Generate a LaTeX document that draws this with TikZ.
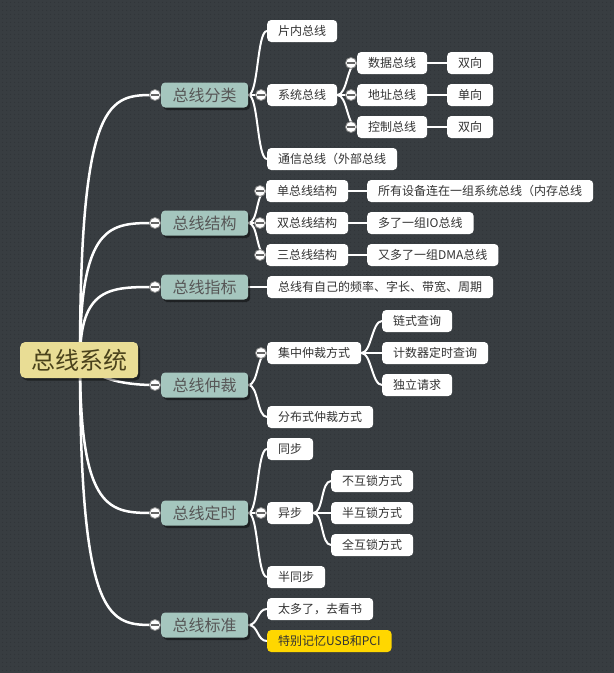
\documentclass[tikz,border=0pt]{standalone}
\usepackage{fontspec}
\newfontfamily\cjk{Noto Sans CJK SC}
\usetikzlibrary{patterns.meta,shadows}
\definecolor{bgc}{HTML}{383D41}
\definecolor{dotc}{HTML}{2C3034}
\definecolor{tealc}{HTML}{A5C6BE}
\definecolor{rootc}{HTML}{E9DD95}
\definecolor{roottxt}{HTML}{4A421C}
\definecolor{maintxt}{HTML}{575757}
\definecolor{leaftxt}{HTML}{333333}
\definecolor{goldc}{HTML}{FFD700}
\definecolor{circc}{HTML}{8A8A8A}
\pgfdeclarelayer{bglayer}
\pgfdeclarelayer{lines}
\pgfdeclarelayer{top}
\pgfsetlayers{bglayer,lines,main,top}
\begin{document}
\begin{tikzpicture}[x=1pt,y=-1pt,
 myshadow/.style={drop shadow={shadow xshift=2pt,shadow yshift=-2.5pt,opacity=0.45,fill=black}},
 rootbox/.style={fill=rootc,text=roottxt,rounded corners=5pt,inner xsep=11pt,inner ysep=0pt,minimum height=36pt,font=\cjk\fontsize{24}{24}\selectfont,anchor=west,myshadow},
 mainbox/.style={fill=tealc,text=maintxt,rounded corners=4pt,inner xsep=11.5pt,inner ysep=0pt,minimum height=25pt,font=\cjk\fontsize{16}{16}\selectfont,anchor=west,myshadow},
 leafbox/.style={fill=white,text=leaftxt,rounded corners=4pt,inner xsep=11pt,inner ysep=0pt,minimum height=22pt,font=\cjk\fontsize{12}{12}\selectfont,anchor=west},
 goldbox/.style={leafbox,fill=goldc},
 rootline/.style={draw=white,line width=2.5pt},
 subline/.style={draw=white,line width=2pt},
 collapse/.style={circle,fill=white,draw=circc,line width=0.8pt,minimum size=11pt,inner sep=0pt,
   path picture={\draw[black!60,line width=1.3pt] ([xshift=-3.6pt]path picture bounding box.center) -- ([xshift=3.6pt]path picture bounding box.center);}}
]
\begin{pgfonlayer}{bglayer}
\fill[bgc] (0,0) rectangle (614,673);
\fill[pattern={Dots[distance=4pt,radius=0.55pt]},pattern color=dotc] (0,0) rectangle (614,673);
\end{pgfonlayer}
\useasboundingbox (0,0) rectangle (614,673);

% root
\node[rootbox] (root) at (20,360) {总线系统};
\coordinate (rs) at (80,360);

% level 1
\node[mainbox] (m1) at (161,95) {总线分类};
\node[mainbox] (m2) at (161,223) {总线结构};
\node[mainbox] (m3) at (161,287) {总线指标};
\node[mainbox] (m4) at (161,385) {总线仲裁};
\node[mainbox] (m5) at (161,513) {总线定时};
\node[mainbox] (m6) at (161,625) {总线标准};

% 总线分类
\node[leafbox] (a1) at (267,31) {片内总线};
\node[leafbox] (a2) at (267,95) {系统总线};
\node[leafbox] (a3) at (267,159) {通信总线（外部总线};
\node[leafbox] (a21) at (357,63) {数据总线};
\node[leafbox] (a22) at (357,95) {地址总线};
\node[leafbox] (a23) at (357,127) {控制总线};
\node[leafbox] (a211) at (447,63) {双向};
\node[leafbox] (a221) at (447,95) {单向};
\node[leafbox] (a231) at (447,127) {双向};

% 总线结构
\node[leafbox] (b1) at (266,191) {单总线结构};
\node[leafbox] (b2) at (266,223) {双总线结构};
\node[leafbox] (b3) at (266,255) {三总线结构};
\node[leafbox] (b11) at (367,191) {所有设备连在一组系统总线（内存总线};
\node[leafbox] (b21) at (367,223) {多了一组IO总线};
\node[leafbox] (b31) at (367,255) {又多了一组DMA总线};

% 总线指标
\node[leafbox] (c1) at (267,287) {总线有自己的频率、字长、带宽、周期};

% 总线仲裁
\node[leafbox] (d1) at (267,353) {集中仲裁方式};
\node[leafbox] (d2) at (267,417) {分布式仲裁方式};
\node[leafbox] (d11) at (382,321) {链式查询};
\node[leafbox] (d12) at (382,353) {计数器定时查询};
\node[leafbox] (d13) at (382,385) {独立请求};

% 总线定时
\node[leafbox] (e1) at (267,449) {同步};
\node[leafbox] (e2) at (267,513) {异步};
\node[leafbox] (e3) at (267,577) {半同步};
\node[leafbox] (e21) at (331,481) {不互锁方式};
\node[leafbox] (e22) at (331,513) {半互锁方式};
\node[leafbox] (e23) at (331,545) {全互锁方式};

% 总线标准
\node[leafbox] (f1) at (267,609) {太多了，去看书};
\node[goldbox] (f2) at (267,641) {特别记忆USB和PCI};

% collapse markers
\begin{pgfonlayer}{top}
\foreach \n in {m1,m2,m3,m4,m5,m6,a2,a21,a22,a23,b1,b2,b3,d1,e2}
  \node[collapse] (k\n) at ([xshift=-6pt]\n.west) {};
\end{pgfonlayer}

% connectors
\begin{pgfonlayer}{lines}
\foreach \n in {m1,m2,m3,m5,m6}
  \draw[rootline] (rs) .. controls (rs |- k\n) and ([xshift=-45pt]k\n.center) .. (k\n.center);
\draw[rootline] (rs) .. controls (95,378) and (120,385) .. (km4.center);

\foreach \p/\c in {m1/a1,m1/a2,m1/a3,a2/a21,a2/a22,a2/a23,a21/a211,a22/a221,a23/a231,
                   m2/b1,m2/b2,m2/b3,b1/b11,b2/b21,b3/b31,m3/c1,
                   m4/d1,m4/d2,d1/d11,d1/d12,d1/d13,
                   m5/e1,m5/e2,m5/e3,e2/e21,e2/e22,e2/e23,m6/f1,m6/f2}
  \draw[subline] (\p.east) .. controls +(10,0) and +(-10,0) .. (\c.west);
\end{pgfonlayer}
\end{tikzpicture}
\end{document}
